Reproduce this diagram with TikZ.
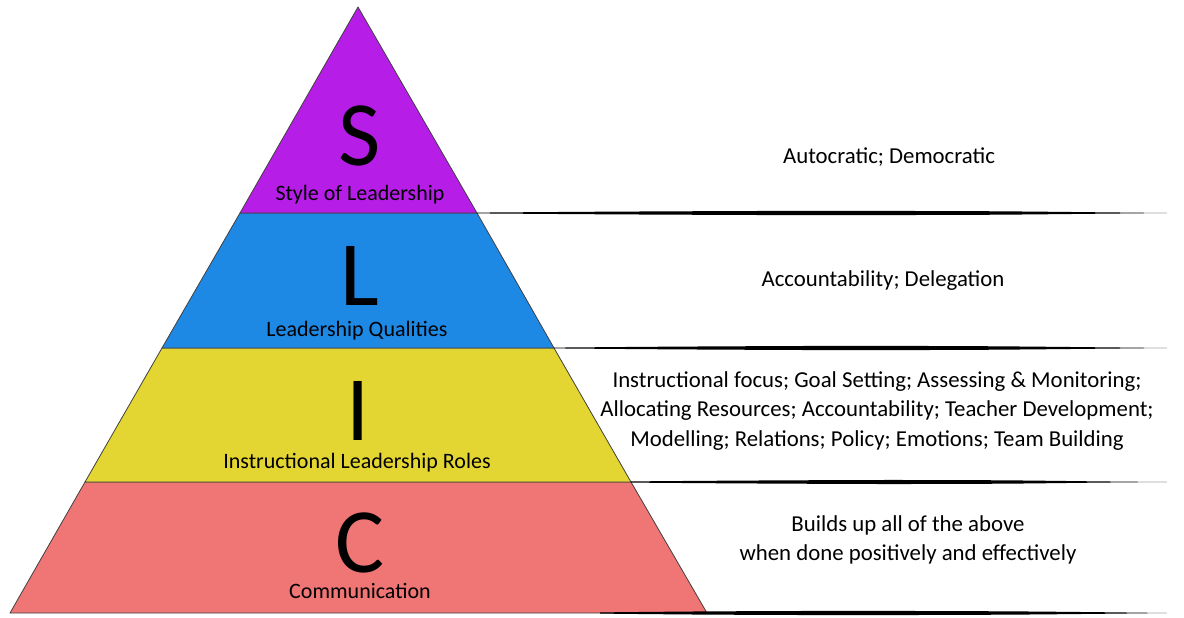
\documentclass[tikz,border=0pt]{standalone}
\usepackage{fontspec}
\setmainfont{Carlito}
\begin{document}
\begin{tikzpicture}[x=1pt,y=-1pt,
  layer/.style={draw=black!75,line width=0.8pt,line join=round},
  big/.style={font=\fontsize{92}{92}\selectfont,inner sep=0pt,anchor=base,text height=58pt,text depth=0pt},
  lbl/.style={font=\fontsize{22}{24}\selectfont,inner sep=0pt,anchor=base,text height=15pt,text depth=4pt},
  desc/.style={font=\fontsize{22.8}{29.5}\selectfont,inner sep=0pt,align=center,anchor=center}]
\definecolor{cS}{HTML}{B61EE8}
\definecolor{cL}{HTML}{1E88E5}
\definecolor{cI}{HTML}{E4D632}
\definecolor{cC}{HTML}{F07575}
\useasboundingbox (0,0) rectangle (1184,618);
% pyramid layers
\coordinate (apex) at (358,7);
\coordinate (bl) at (10,613);
\coordinate (br) at (707,613);
\path[layer,fill=cC] (85,482) -- (631,482) -- (br) -- (bl) -- cycle;
\path[layer,fill=cI] (162,348) -- (554,348) -- (631,482) -- (85,482) -- cycle;
\path[layer,fill=cL] (240,213) -- (477,213) -- (554,348) -- (162,348) -- cycle;
\path[layer,fill=cS] (apex) -- (477,213) -- (240,213) -- cycle;
% brush lines
\fill[black] plot[smooth] coordinates {(477,212.6) (620,211.6) (800,210.9) (980,211.2) (1100,212.3) (1167,213)}
  -- plot[smooth] coordinates {(1167,213) (1100,213.7) (980,214.8) (800,215.1) (620,214.4) (477,213.4)} -- cycle;
\fill[black] plot[smooth] coordinates {(554,347.6) (680,346.6) (840,345.9) (980,346.2) (1100,347.3) (1167,348)}
  -- plot[smooth] coordinates {(1167,348) (1100,348.7) (980,349.8) (840,350.1) (680,349.4) (554,348.4)} -- cycle;
\fill[black] plot[smooth] coordinates {(631,481.4) (740,480.6) (880,480) (1000,480.3) (1100,481.4) (1167,482)}
  -- plot[smooth] coordinates {(1167,482) (1100,482.6) (1000,483.7) (880,484) (740,483.4) (631,482.6)} -- cycle;
\fill[black] plot[smooth] coordinates {(600,612.4) (707,611.4) (850,610.9) (1000,611.3) (1100,612.2) (1167,613)}
  -- plot[smooth] coordinates {(1167,613) (1100,613.8) (1000,614.7) (850,615.1) (707,614.6) (600,613.6)} -- cycle;
% letters
\node[big] (S) at (360,165) {S};
\node[big] (L) at (360,305) {L};
\node[big] (I) at (358,440) {I};
\node[big] (C) at (360,572) {C};
\node[lbl] (Slab) at (360,200) {Style of Leadership};
\node[lbl] (Llab) at (357,336) {Leadership Qualities};
\node[lbl] (Ilab) at (357,468) {Instructional Leadership Roles};
\node[lbl] (Clab) at (360,598) {Communication};
% descriptions
\node[desc] (Sd) at (889,157) {Autocratic; Democratic};
\node[desc] (Ld) at (883,281) {Accountability; Delegation};
\node[desc] (Id) at (877,411) {Instructional focus; Goal Setting; Assessing \& Monitoring;\\Allocating Resources; Accountability; Teacher Development;\\Modelling; Relations; Policy; Emotions; Team Building};
\node[desc] (Cd) at (908,540) {Builds up all of the above\\when done positively and effectively};
\end{tikzpicture}
\end{document}
